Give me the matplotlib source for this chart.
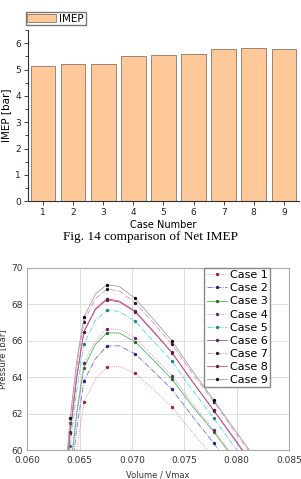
import numpy as np
import matplotlib
matplotlib.use("Agg")
import matplotlib.pyplot as plt
from matplotlib.ticker import MultipleLocator

# === データ ===
cases = [1, 2, 3, 4, 5, 6, 7, 8, 9]
imep = [5.14, 5.20, 5.22, 5.53, 5.57, 5.60, 5.78, 5.81, 5.78]

vol = [0.0636, 0.0641, 0.0647, 0.0654, 0.0665, 0.0676, 0.0688,
       0.0703, 0.0720, 0.0738, 0.0757, 0.0778, 0.0800, 0.0822]
p_case1 = [54.0, 56.8, 59.9, 62.63, 63.9, 64.54, 64.58, 64.21, 63.35, 62.38, 61.0, 59.6, 58.0, 56.3]
p_case2 = [55.0, 58.0, 61.1, 63.77, 65.0, 65.70, 65.72, 65.27, 64.35, 63.33, 61.9, 60.37, 58.7, 57.0]
p_case3 = [55.8, 58.8, 61.9, 64.52, 65.8, 66.43, 66.42, 65.94, 64.95, 63.89, 62.45, 61.0, 59.3, 57.5]
p_case4 = [56.0, 59.0, 62.1, 64.75, 66.0, 66.65, 66.62, 66.16, 65.15, 64.08, 62.6, 61.1, 59.4, 57.6]
p_case5 = [57.0, 60.2, 63.2, 65.81, 67.1, 67.68, 67.6, 67.06, 66.0, 64.88, 63.35, 61.74, 60.0, 58.2]
p_case6 = [57.8, 60.95, 63.9, 66.47, 67.7, 68.25, 68.12, 67.58, 66.5, 65.34, 63.8, 62.16, 60.4, 58.6]
p_case7 = [58.3, 61.5, 64.5, 67.04, 68.3, 68.83, 68.72, 68.08, 67.0, 65.81, 64.25, 62.65, 60.85, 59.1]
p_case8 = [57.9, 60.98, 63.95, 66.5, 67.75, 68.3, 68.17, 67.62, 66.55, 65.36, 63.82, 62.18, 60.45, 58.65]
p_case9 = [58.5, 61.78, 64.8, 67.28, 68.55, 69.07, 68.97, 68.32, 67.2, 66.0, 64.4, 62.74, 60.95, 59.2]

fig = plt.figure(figsize=(3.01, 4.79), dpi=100)
fig.patch.set_facecolor("white")

# === 上: IMEP 棒グラフ ===
ax1 = fig.add_axes([0.093, 0.580, 0.900, 0.357])
ax1.bar(cases, imep, width=0.82, color="#FFC898", edgecolor="#8a7565",
        linewidth=0.6, label="IMEP")
ax1.set_xlim(0.5, 9.5)
ax1.set_ylim(0, 6.5)
ax1.set_xticks(cases)
ax1.yaxis.set_major_locator(MultipleLocator(1))
ax1.yaxis.set_minor_locator(MultipleLocator(0.5))
ax1.spines["top"].set_visible(False)
ax1.spines["right"].set_visible(False)
for s in ["left", "bottom"]:
    ax1.spines[s].set_color("#333333")
    ax1.spines[s].set_linewidth(0.8)
ax1.tick_params(axis="both", labelsize=6.5, length=3, width=0.6, colors="#222222", pad=2)
ax1.tick_params(axis="y", which="minor", length=2, width=0.5)
ax1.set_xlabel("Case Number", fontsize=7, labelpad=2)
ax1.set_ylabel("IMEP [bar]", fontsize=7.5, labelpad=3)
ax1.legend(loc="upper left", bbox_to_anchor=(0.085, 0.975), bbox_transform=fig.transFigure,
           fontsize=7.5, frameon=True, fancybox=False, edgecolor="#555555",
           handlelength=2.8, handleheight=0.9, borderpad=0.15, handletextpad=0.3,
           borderaxespad=0)

# === キャプション ===
fig.text(0.5, 0.505, "Fig. 14 comparison of Net IMEP", ha="center", va="center",
         fontsize=9.5, family="Liberation Serif")

# === 下: P-V 線図 ===
ax2 = fig.add_axes([0.0907, 0.0605, 0.870, 0.3805])
styles = [
    ("Case 1", p_case1, "#e8707a", ":", "#a02030"),
    ("Case 2", p_case2, "#6a6ae0", "-.", "#202080"),
    ("Case 3", p_case3, "#50b850", "-", "#207020"),
    ("Case 4", p_case4, "#d060d0", ":", "#702070"),
    ("Case 5", p_case5, "#50d8d8", "-.", "#208080"),
    ("Case 6", p_case6, "#a050a8", "-", "#502050"),
    ("Case 7", p_case7, "#d890b0", "-.", "#202020"),
    ("Case 8", p_case8, "#d85080", "-", "#602030"),
    ("Case 9", p_case9, "#a0a0a0", "-", "#101010"),
]
for name, p, col, ls, mcol in styles:
    ax2.plot(vol, p, color=col, linestyle=ls, linewidth=0.6, marker="o", markersize=1.4,
             markerfacecolor=mcol, markeredgecolor=mcol, markevery=slice(1, None, 2),
             label=name)
ax2.set_xlim(0.060, 0.085)
ax2.set_ylim(60, 70)
ax2.set_xticks([0.060, 0.065, 0.070, 0.075, 0.080, 0.085])
ax2.set_xticklabels(["0.060", "0.065", "0.070", "0.075", "0.080", "0.085"])
ax2.set_yticks([60, 62, 64, 66, 68, 70])
ax2.grid(True, color="#dddddd", linewidth=0.7)
for s in ax2.spines.values():
    s.set_color("#aaaaaa")
    s.set_linewidth(0.8)
ax2.tick_params(axis="both", labelsize=6.5, length=0, colors="#333333")
ax2.tick_params(axis="x", pad=4)
ax2.tick_params(axis="y", pad=3)
ax2.set_xlabel("Volume / Vmax", fontsize=6, color="#333333", labelpad=4)
ax2.set_ylabel("Pressure [bar]", fontsize=6, color="#333333", labelpad=3)
ax2.legend(loc="upper right", bbox_to_anchor=(0.897, 0.4405), bbox_transform=fig.transFigure,
           fontsize=8, frameon=True, fancybox=False, edgecolor="#888888",
           handlelength=1.8, borderpad=0.2, labelspacing=0.28, handletextpad=0.3,
           borderaxespad=0, framealpha=1)

fig.savefig("out.png", dpi=100)
